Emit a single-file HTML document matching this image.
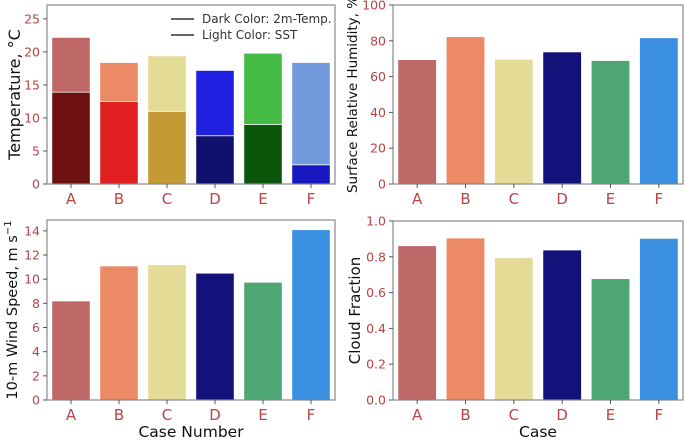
<!DOCTYPE html>
<html><head><meta charset="utf-8"><style>
html,body{margin:0;padding:0;background:#fff;}
svg{display:block;font-family:"DejaVu Sans","Liberation Sans",sans-serif;}
</style></head><body>
<svg id="chart" width="685" height="440"></svg>
<script>
const categories = ["A","B","C","D","E","F"];
const sstValues = [22.2,18.4,19.4,17.2,19.8,18.4];
const t2mValues = [13.9,12.5,11.0,7.3,9.0,2.9];
const rhValues = [69.5,82.3,69.7,73.8,69.0,81.7];
const windValues = [8.2,11.1,11.2,10.5,9.75,14.1];
const cloudValues = [0.862,0.905,0.795,0.838,0.678,0.903];
const tempTicks = [0,5,10,15,20,25];
const rhTicks = [0,20,40,60,80,100];
const windTicks = [0,2,4,6,8,10,12,14];
const cloudTicks = ["0.0","0.2","0.4","0.6","0.8","1.0"];

const baseColors = ["#bf6868","#ec8a66","#e3db96","#12127a","#4da673","#3a8fe0"];
const sstColors = ["#bf6868","#ec8a66","#e3db96","#2020e0","#44bb44","#729adc"];
const t2mColors = ["#6d1010","#e02020","#c39a36","#10106e","#0b560b","#1818c0"];

const NS="http://www.w3.org/2000/svg";
const svg=document.getElementById('chart');
function mk(tag,attrs,parent){const e=document.createElementNS(NS,tag);for(const k in attrs)e.setAttribute(k,attrs[k]);(parent||svg).appendChild(e);return e;}

function panel(p){
  const g=mk('g',{});
  
  
  const x=i=>p.x0+(i+0.5)*(p.x1-p.x0)/6;
  const bw=0.8*(p.x1-p.x0)/6;
  const y=v=>p.y1-(v/p.ymax)*(p.y1-p.y0);
  p.series.forEach(s=>{
    s.vals.forEach((v,i)=>{
      const r=mk('rect',{x:x(i)-bw/2,y:y(v),width:bw,height:p.y1-y(v),fill:s.colors[i],stroke:'#fff','stroke-width':0.8},g);
      
      
    });
  });
  mk('rect',{x:p.x0,y:p.y0,width:p.x1-p.x0,height:p.y1-p.y0,fill:'none',stroke:'#888','stroke-width':1.2},g);
  p.ticks.forEach(t=>{
    const yy=y(parseFloat(t));
    mk('line',{x1:p.x0-4,x2:p.x0,y1:yy,y2:yy,stroke:'#555'},g);
    const tx=mk('text',{x:p.x0-7,y:yy+4.5,'text-anchor':'end','font-size':12.5,fill:'#b84444'},g);
    tx.textContent=t;
    
    
  });
  categories.forEach((c,i)=>{
    mk('line',{x1:x(i),x2:x(i),y1:p.y1,y2:p.y1+4,stroke:'#555'},g);
    const tx=mk('text',{x:x(i),y:p.y1+20,'text-anchor':'middle','font-size':15,fill:'#b84444'},g);
    tx.textContent=c;
    
    
  });
  const yl=mk('text',{transform:`translate(${p.ylx},${(p.y0+p.y1)/2}) rotate(-90)`,'text-anchor':'middle','font-size':p.ylfs,fill:'#111'},g);
  yl.innerHTML=p.ylabel;
  
  
  if(p.xlabel){
    const xl=mk('text',{x:(p.x0+p.x1)/2,y:p.y1+37,'text-anchor':'middle','font-size':15.5,fill:'#111'},g);
    xl.textContent=p.xlabel;
    
    
  }
  return g;
}

const tg=panel({name:'temperature-panel',x0:47,x1:335,y0:5,y1:184,ymax:27.1,ticks:tempTicks,ylabel:'Temperature, °C',ylx:20,ylfs:16,
  series:[{label:'sst',vals:sstValues,colors:sstColors},{label:'t2m',vals:t2mValues,colors:t2mColors}]});
panel({name:'humidity-panel',x0:393,x1:683,y0:5,y1:184,ymax:100,ticks:rhTicks,ylabel:'Surface Relative Humidity, %',ylx:357,ylfs:13.5,
  series:[{label:'rh',vals:rhValues,colors:baseColors}]});
panel({name:'wind-panel',x0:47,x1:335,y0:220,y1:400,ymax:14.9,ticks:windTicks,ylabel:'10-m Wind Speed, m s<tspan dy="-6" font-size="10">−1</tspan>',ylx:17,ylfs:14.5,xlabel:'Case Number',
  series:[{label:'wind',vals:windValues,colors:baseColors}]});
panel({name:'cloud-panel',x0:393,x1:683,y0:221,y1:400,ymax:1,ticks:cloudTicks,ylabel:'Cloud Fraction',ylx:360,ylfs:15,xlabel:'Case',
  series:[{label:'cloud',vals:cloudValues,colors:baseColors}]});

const lg=mk('g',{},tg);


[['Dark Color: 2m-Temp.',19],['Light Color: SST',35]].forEach(([t,yy])=>{
  mk('line',{x1:171,x2:194,y1:yy,y2:yy,stroke:'#333','stroke-width':1.5},lg);
  const tx=mk('text',{x:202,y:yy+4,'font-size':12,fill:'#333'},lg);
  tx.textContent=t;
  
  
});
</script>
</body></html>
